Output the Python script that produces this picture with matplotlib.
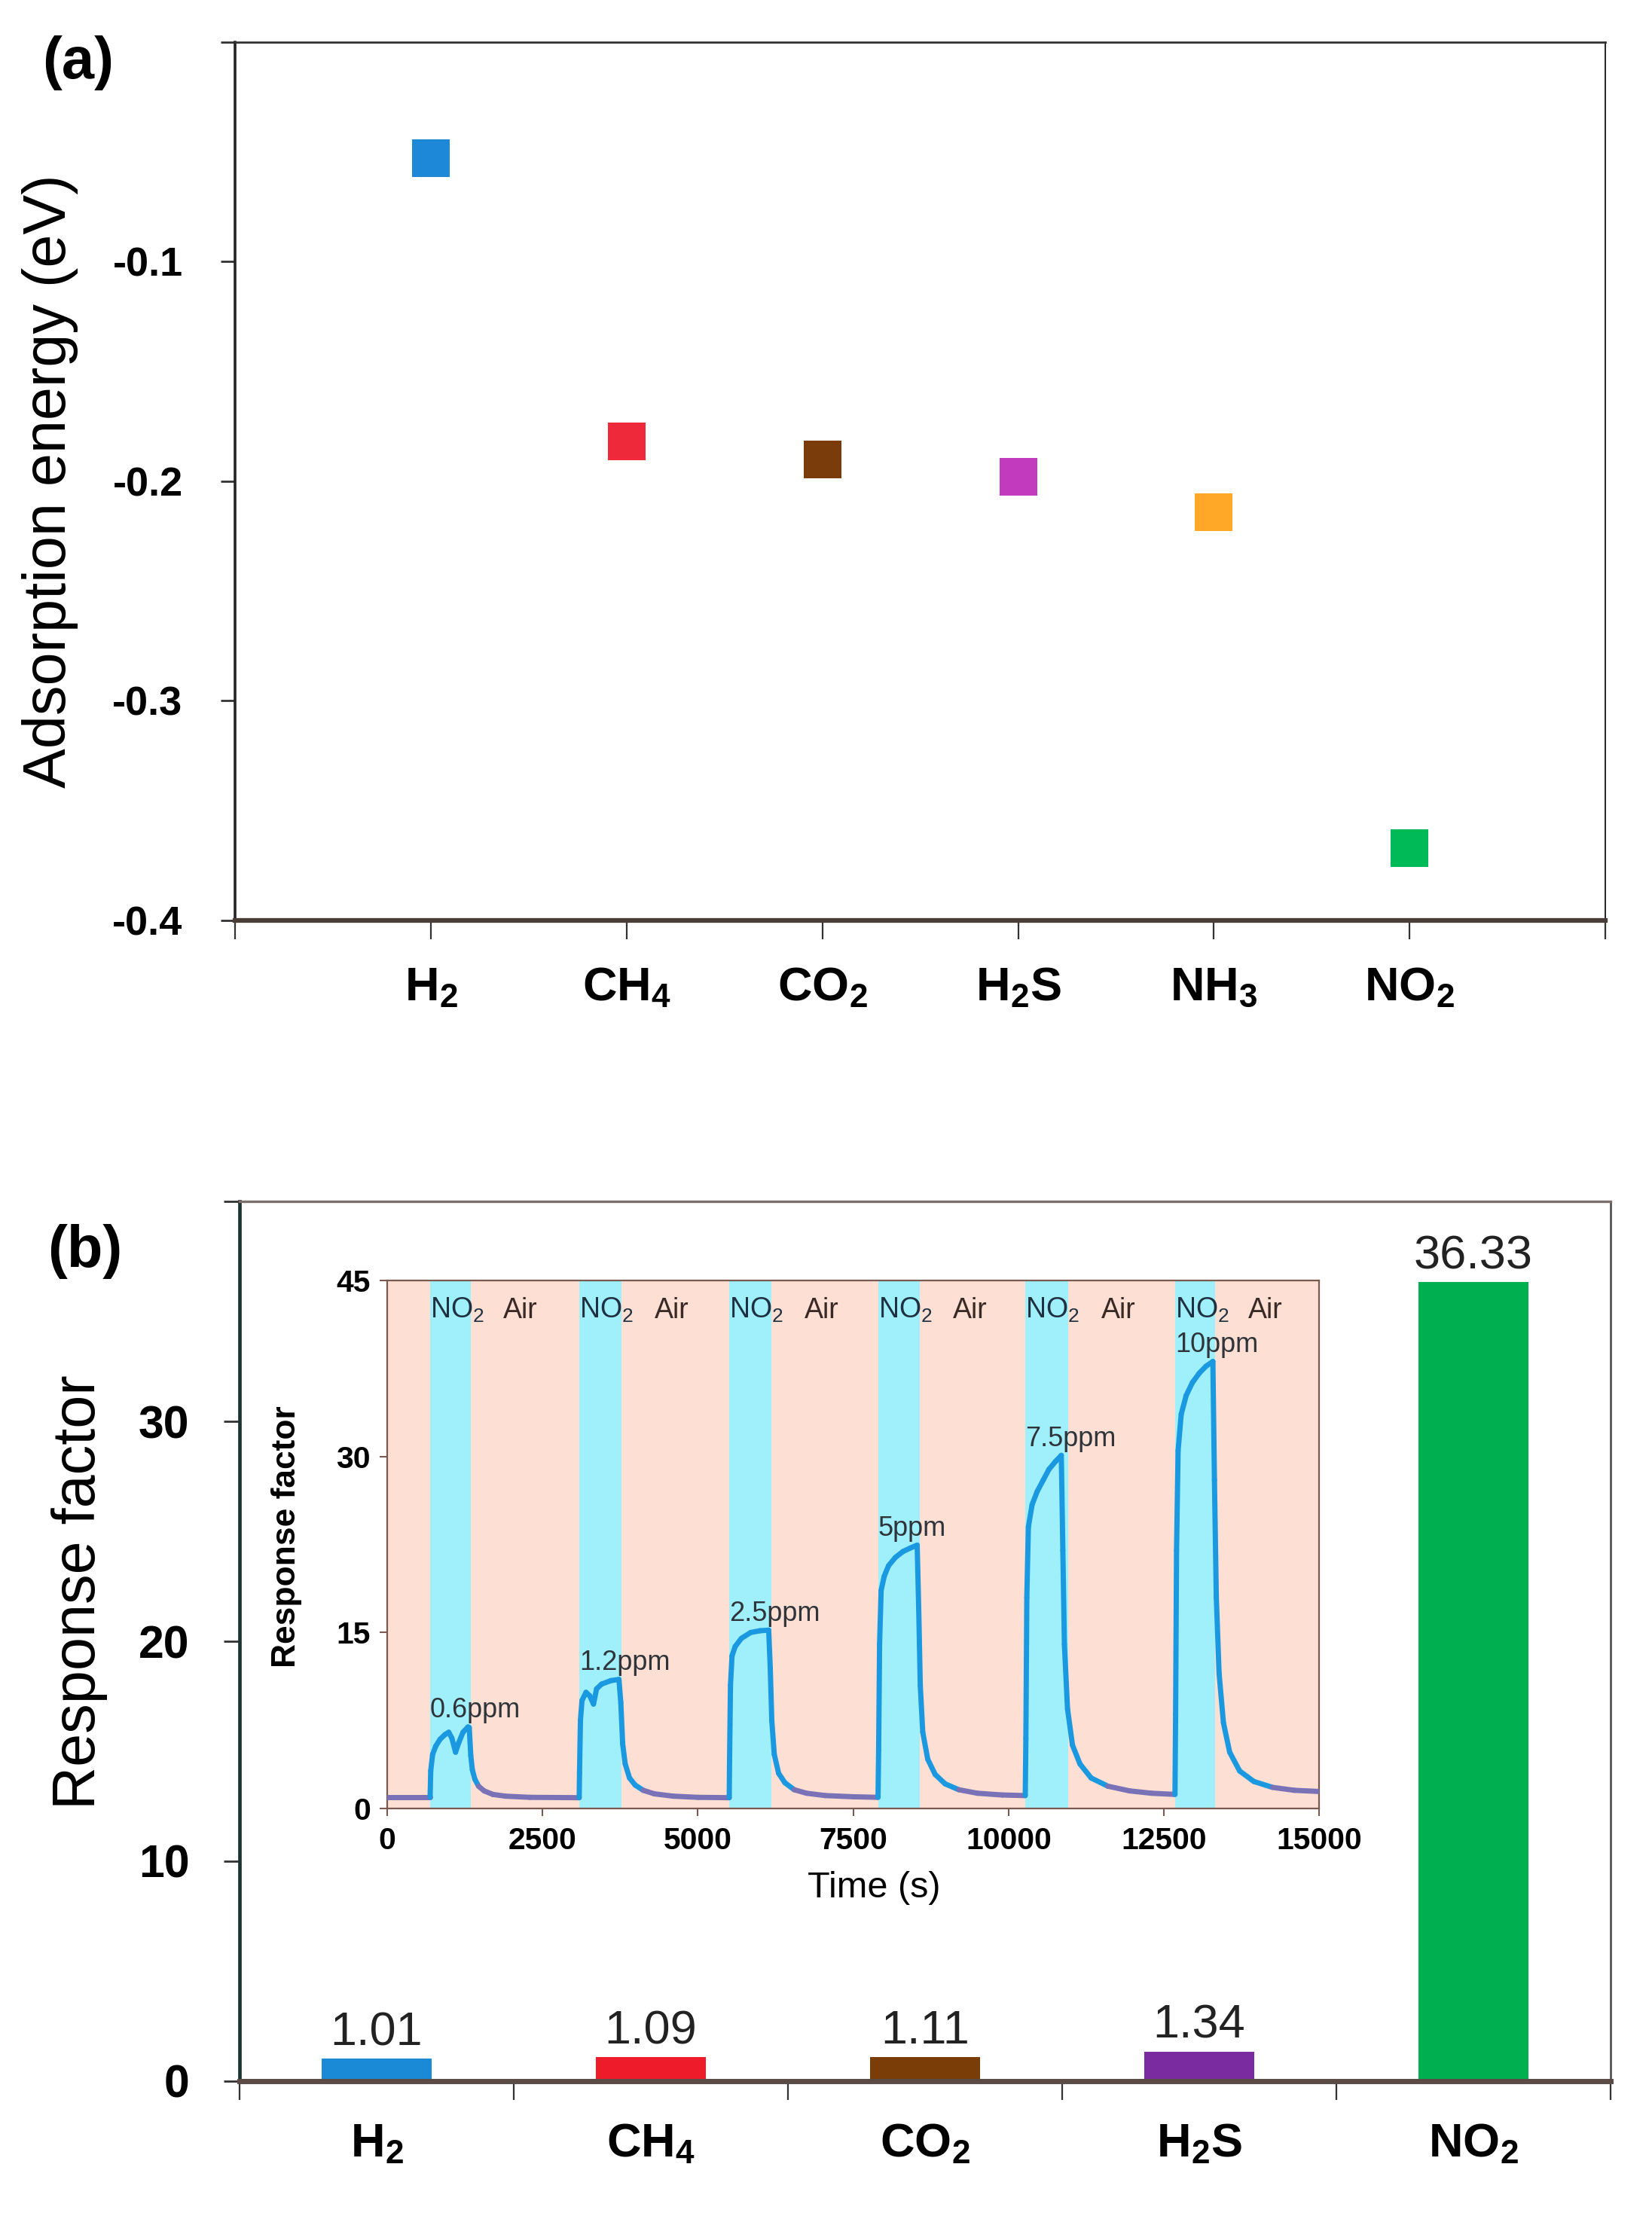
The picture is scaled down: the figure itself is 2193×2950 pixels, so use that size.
import matplotlib
matplotlib.use("Agg")
import matplotlib.pyplot as plt
from matplotlib import font_manager as fm
from matplotlib.collections import LineCollection
import numpy as np

# ---------------- data ----------------
gases_a = ["H_2", "CH_4", "CO_2", "H_2S", "NH_3", "NO_2"]
adsorption_energy = [-0.053, -0.182, -0.190, -0.198, -0.214, -0.367]
colors_a = ["#1e88d8", "#ee2a3a", "#7b3c0c", "#c23bbf", "#ffa726", "#00b957"]

gases_b = ["H_2", "CH_4", "CO_2", "H_2S", "NO_2"]
response_factor = [1.01, 1.09, 1.11, 1.34, 36.33]
colors_b = ["#1b8ad6", "#ee1c2a", "#7a3d07", "#7b2ba0", "#00b050"]

no2_on = [690, 3090, 5505, 7905, 10275, 12685]
no2_off = [1340, 3770, 6180, 8570, 10960, 13330]
conc_labels = ["0.6ppm", "1.2ppm", "2.5ppm", "5ppm", "7.5ppm", "10ppm"]

inset_time = [
    0, 690, 700, 730, 780, 850, 930, 990, 1040, 1100, 1150, 1220, 1300, 1320,
    1345, 1370, 1410, 1470, 1560, 1700, 1900, 2300, 3090,
    3095, 3110, 3135, 3200, 3260, 3320, 3370, 3450, 3600, 3730, 3760, 3790,
    3830, 3900, 3990, 4120, 4300, 4600, 5000, 5505,
    5510, 5525, 5550, 5600, 5700, 5850, 6000, 6140, 6165, 6190, 6230, 6300,
    6400, 6550, 6750, 7050, 7500, 7900,
    7910, 7925, 7950, 8000, 8070, 8180, 8300, 8420, 8530, 8555, 8580, 8620,
    8700, 8820, 8980, 9200, 9500, 9900, 10270,
    10280, 10295, 10320, 10380, 10460, 10560, 10650, 10760, 10850, 10875,
    10900, 10950, 11030, 11150, 11330, 11600, 11950, 12300, 12680,
    12690, 12705, 12730, 12780, 12860, 12960, 13070, 13180, 13290, 13315,
    13345, 13390, 13460, 13560, 13720, 13950, 14250, 14600, 15000,
]
inset_resp = [
    0.95, 0.95, 3.2, 4.6, 5.3, 5.9, 6.3, 6.5, 6.0, 4.8, 5.6, 6.5, 6.95, 6.9,
    4.5, 3.3, 2.5, 1.9, 1.5, 1.2, 1.05, 0.95, 0.92,
    3.0, 7.5, 9.2, 9.9, 9.6, 8.9, 10.2, 10.6, 10.9, 11.0, 9.0, 5.5,
    3.8, 2.6, 2.0, 1.55, 1.25, 1.05, 0.95, 0.92,
    4.0, 10.5, 13.0, 13.8, 14.5, 15.0, 15.15, 15.2, 12.0, 7.5, 4.6, 3.0,
    2.2, 1.6, 1.3, 1.1, 1.0, 0.95,
    5.0, 14.0, 18.6, 19.8, 20.7, 21.4, 21.9, 22.2, 22.45, 17.0, 10.5, 6.5,
    4.2, 2.9, 2.1, 1.6, 1.3, 1.15, 1.1,
    6.0, 18.0, 24.0, 25.9, 27.0, 28.0, 28.9, 29.6, 30.1, 22.0,
    14.0, 8.5, 5.4, 3.8, 2.6, 1.9, 1.5, 1.3, 1.2,
    8.0, 22.0, 30.5, 33.6, 35.2, 36.3, 37.1, 37.7, 38.1, 28.0,
    18.0, 11.5, 7.3, 4.8, 3.2, 2.3, 1.8, 1.55, 1.45,
]

# ---------------- fonts ----------------
names = {f.name for f in fm.fontManager.ttflist}
SANS = "Liberation Sans"
HAS_NARROW = "Liberation Sans Narrow" in names
NARROW = "Liberation Sans Narrow" if HAS_NARROW else SANS


def ns(size):
    return size if HAS_NARROW else size * 0.84


plt.rcParams.update({
    "font.family": [SANS, "DejaVu Sans"],
    "axes.unicode_minus": False,
    "mathtext.fontset": "custom",
    "mathtext.rm": SANS,
    "mathtext.bf": NARROW + ":bold",
    "mathtext.it": SANS + ":italic",
    "mathtext.sf": SANS,
})


def bf_label(s):
    return r"$\mathbf{" + s + "}$"


fig = plt.figure(figsize=(21.93, 29.50), dpi=100)

# ---------------- panel (a) ----------------
axA = fig.add_axes([0.1423, 0.5858, 0.8295, 0.3953])
for i, (v, c) in enumerate(zip(adsorption_energy, colors_a)):
    axA.plot(i + 1, v, "s", ms=36, color=c, mec=c, mew=0)
axA.set_xlim(0, 7)
axA.set_ylim(-0.4, 0.0)
axA.set_xticks(range(8))
axA.set_xticklabels([""] + [bf_label(g) for g in gases_a] + [""],
                    fontsize=ns(54))
axA.set_yticks([-0.4, -0.3, -0.2, -0.1, 0.0])
axA.set_yticklabels(["-0.4", "-0.3", "-0.2", "-0.1", ""],
                    fontsize=39, fontweight="bold")
axA.tick_params(axis="x", direction="out", length=18, width=1.6,
                pad=25, color="#333333")
axA.tick_params(axis="y", direction="out", length=14, width=2.0,
                pad=36, color="#333333")
axA.spines["left"].set_linewidth(2.6)
axA.spines["left"].set_color("#222222")
axA.spines["top"].set_linewidth(2.0)
axA.spines["top"].set_color("#333333")
axA.spines["right"].set_linewidth(1.4)
axA.spines["right"].set_color("#222222")
axA.spines["bottom"].set_linewidth(4.5)
axA.spines["bottom"].set_color("#4a3c38")
axA.set_ylabel("Adsorption energy (eV)", fontsize=57, va="center")
axA.yaxis.set_label_coords(-0.1352, 0.5)
fig.text(104 / 2193, 1 - 84 / 2950, "(a)", fontsize=56, fontweight="bold",
         ha="center", va="center")

# ---------------- panel (b) ----------------
axB = fig.add_axes([0.1450, 0.0634, 0.8299, 0.3959])
xb = np.arange(len(gases_b)) + 0.5
bars = axB.bar(xb, response_factor, width=0.4, color=colors_b, zorder=2)
for x, v in zip(xb, response_factor):
    axB.annotate(f"{v:.2f}", (x, v), xytext=(0, 13), textcoords="offset points",
                 ha="center", va="baseline", fontsize=ns(54), color="#222222",
                 family=NARROW)
axB.set_xlim(0, 5)
axB.set_ylim(0, 40)
axB.set_xticks(range(6))
axB.set_xticklabels([""] * 6)
axB.set_xticks(xb, minor=True)
axB.set_xticklabels([bf_label(g) for g in gases_b], minor=True,
                    fontsize=ns(54))
axB.tick_params(axis="x", which="major", direction="out", length=18,
                width=1.6, color="#333333")
axB.tick_params(axis="x", which="minor", length=0, pad=39)
axB.set_yticks([0, 10, 20, 30, 40])
axB.set_yticklabels(["0", "10", "20", "30", ""], fontsize=ns(52),
                    fontweight="bold", family=NARROW)
axB.tick_params(axis="y", direction="out", length=15, width=2.0, pad=33,
                color="#333333")
axB.spines["left"].set_linewidth(3.4)
axB.spines["left"].set_color("#1a3530")
axB.spines["top"].set_linewidth(2.4)
axB.spines["top"].set_color("#7d706c")
axB.spines["right"].set_linewidth(2.0)
axB.spines["right"].set_color("#555555")
axB.spines["bottom"].set_linewidth(5.0)
axB.spines["bottom"].set_color("#5a4b47")
axB.spines["bottom"].set_zorder(3)
axB.set_ylabel("Response factor", fontsize=57, va="center")
axB.yaxis.set_label_coords(-0.1165, 0.556)
fig.text(113 / 2193, 1 - 1662 / 2950, "(b)", fontsize=56, fontweight="bold",
         ha="center", va="center")

# ---------------- inset ----------------
axI = fig.add_axes([0.2344, 0.1861, 0.5641, 0.2376])
axI.set_facecolor("#fddfd4")
for on, off in zip(no2_on, no2_off):
    axI.axvspan(on, off, color="#9ff0fb", lw=0, zorder=0)

t = np.array(inset_time, dtype=float)
r = np.array(inset_resp, dtype=float)
pts = np.column_stack([t, r])
segs = np.stack([pts[:-1], pts[1:]], axis=1)
seg_cols = ["#1a98e0" if max(a, b) > 1.9 else "#7a72b6"
            for a, b in zip(r[:-1], r[1:])]
lc = LineCollection(segs, colors=seg_cols, linewidths=5.0, capstyle="round",
                    joinstyle="round", zorder=3)
axI.add_collection(lc)

for on, off, lab in zip(no2_on, no2_off, conc_labels):
    mask = (t >= on) & (t <= off + 60)
    peak = r[mask].max()
    axI.annotate(lab, (on, peak), xytext=(0, 9), textcoords="offset points",
                 ha="left", va="baseline", fontsize=26, color="#2e3439",
                 zorder=4)
    axI.text(on, 41.8, r"$\mathrm{NO_2}$", fontsize=27, color="#1f3040",
             ha="left", va="baseline", zorder=4)
    axI.text(off + 530, 41.8, "Air", fontsize=27, color="#3a2a25",
             ha="left", va="baseline", zorder=4)

axI.set_xlim(0, 15000)
axI.set_ylim(0, 45)
axI.set_xticks(np.arange(0, 15001, 2500))
axI.set_xticklabels([str(v) for v in range(0, 15001, 2500)],
                    fontsize=ns(35), fontweight="bold", family=NARROW)
axI.set_yticks([0, 15, 30, 45])
axI.set_yticklabels(["0", "15", "30", "45"], fontsize=ns(35),
                    fontweight="bold", family=NARROW)
axI.tick_params(axis="both", direction="out", length=7, width=1.5,
                color="#7a5a50")
axI.tick_params(axis="x", pad=10)
axI.tick_params(axis="y", pad=9)
for sp in axI.spines.values():
    sp.set_color("#7a5a50")
    sp.set_linewidth(1.6)
axI.set_ylabel("Response factor", fontsize=ns(38), fontweight="bold",
               family=NARROW, va="center")
axI.yaxis.set_label_coords(-0.1083, 0.515)
axI.set_xlabel("Time (s)", fontsize=35, va="center")
axI.xaxis.set_label_coords(0.522, -0.151)

fig.savefig("out.png", dpi=100)
